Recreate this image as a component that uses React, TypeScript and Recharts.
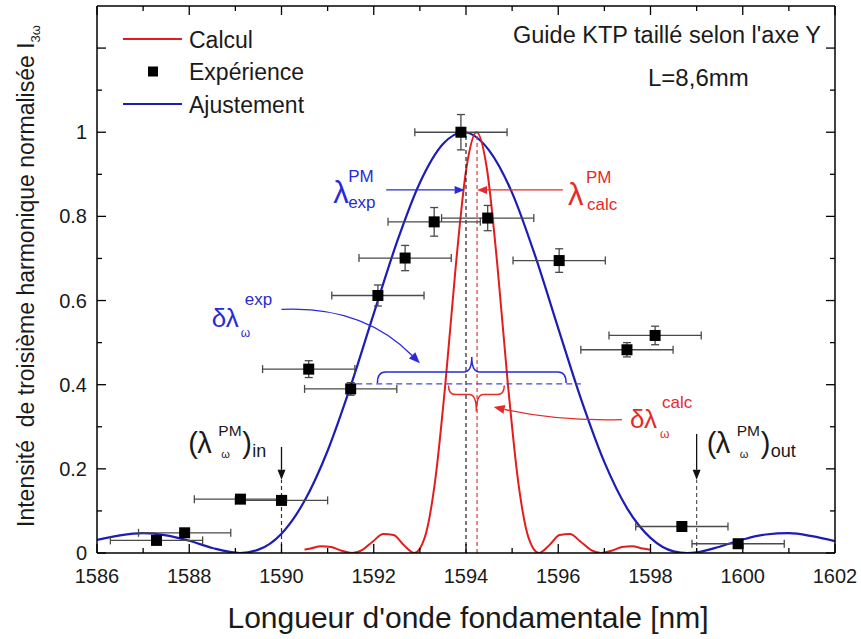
import React from 'react';
import {
  ComposedChart,
  Line,
  Scatter,
  XAxis,
  YAxis,
  ErrorBar,
  ReferenceLine,
  ReferenceDot,
} from 'recharts';

const FONT = '"Liberation Sans", Arial, Helvetica, sans-serif';
const RED = '#e31d1d';
const BLUE = '#1c1cb8';
const BLUE_TXT = '#2a2ad6';
const RED_TXT = '#e62a2a';
const GREY = '#4a4a4a';

// ---- axes ----
const xTicks = [1586, 1587, 1588, 1589, 1590, 1591, 1592, 1593, 1594, 1595, 1596, 1597, 1598, 1599, 1600, 1601, 1602];
const yTicks = [0, 0.1, 0.2, 0.3, 0.4, 0.5, 0.6, 0.7, 0.8, 0.9, 1, 1.1, 1.2];
const yTickLabels = ['0', '0.2', '0.4', '0.6', '0.8', '1'];

// ---- series ----
const calcul = [
  { x: 1590.5, y: 0.008 }, { x: 1590.63, y: 0.0107 }, { x: 1590.855, y: 0.0162 }, { x: 1591.08, y: 0.014 },
  { x: 1591.305, y: 0.0054 }, { x: 1591.53, y: 0 }, { x: 1591.755, y: 0.0075 }, { x: 1591.98, y: 0.0274 },
  { x: 1592.205, y: 0.045 }, { x: 1592.43, y: 0.0427 }, { x: 1592.655, y: 0.0186 }, { x: 1592.88, y: 0 },
  { x: 1593.105, y: 0.0365 }, { x: 1593.33, y: 0.171 }, { x: 1593.555, y: 0.405 }, { x: 1593.78, y: 0.684 },
  { x: 1594.005, y: 0.912 }, { x: 1594.23, y: 1.0 }, { x: 1594.455, y: 0.912 }, { x: 1594.68, y: 0.684 },
  { x: 1594.905, y: 0.405 }, { x: 1595.13, y: 0.171 }, { x: 1595.355, y: 0.0365 }, { x: 1595.58, y: 0 },
  { x: 1595.805, y: 0.0186 }, { x: 1596.03, y: 0.0427 }, { x: 1596.255, y: 0.045 }, { x: 1596.48, y: 0.0274 },
  { x: 1596.705, y: 0.0075 }, { x: 1596.93, y: 0 }, { x: 1597.155, y: 0.0054 }, { x: 1597.38, y: 0.014 },
  { x: 1597.605, y: 0.0162 }, { x: 1597.83, y: 0.0107 }, { x: 1598.0, y: 0.008 },
];

const ajustement = [
  { x: 1586.0, y: 0.031 }, { x: 1586.5, y: 0.042 }, { x: 1587.0, y: 0.047 }, { x: 1587.5, y: 0.042 },
  { x: 1588.0, y: 0.029 }, { x: 1588.5, y: 0.012 }, { x: 1589.1, y: 0 }, { x: 1589.5, y: 0.008 },
  { x: 1590.0, y: 0.046 }, { x: 1590.5, y: 0.124 }, { x: 1591.0, y: 0.243 }, { x: 1591.5, y: 0.397 },
  { x: 1592.0, y: 0.569 }, { x: 1592.5, y: 0.738 }, { x: 1593.0, y: 0.88 }, { x: 1593.5, y: 0.972 },
  { x: 1593.95, y: 1.0 }, { x: 1594.5, y: 0.957 }, { x: 1595.0, y: 0.856 }, { x: 1595.5, y: 0.706 },
  { x: 1596.0, y: 0.534 }, { x: 1596.5, y: 0.364 }, { x: 1597.0, y: 0.216 }, { x: 1597.5, y: 0.105 },
  { x: 1598.0, y: 0.036 }, { x: 1598.5, y: 0.004 }, { x: 1598.8, y: 0 }, { x: 1599.0, y: 0.0015 },
  { x: 1599.5, y: 0.015 }, { x: 1600.0, y: 0.032 }, { x: 1600.5, y: 0.044 }, { x: 1601.0, y: 0.047 },
  { x: 1601.5, y: 0.04 }, { x: 1602.0, y: 0.028 },
];

const experience = [
  { x: 1587.29, y: 0.03, ex: 1, ey: 0.01 },
  { x: 1587.9, y: 0.048, ex: 1, ey: 0.01 },
  { x: 1589.11, y: 0.128, ex: 1, ey: 0.01 },
  { x: 1590.0, y: 0.125, ex: 1, ey: 0.01 },
  { x: 1590.59, y: 0.437, ex: 1, ey: 0.02 },
  { x: 1591.5, y: 0.39, ex: 1, ey: 0.015 },
  { x: 1592.09, y: 0.612, ex: 1, ey: 0.025 },
  { x: 1592.68, y: 0.701, ex: 1, ey: 0.03 },
  { x: 1593.31, y: 0.787, ex: 1, ey: 0.034 },
  { x: 1593.89, y: 1.0, ex: 1, ey: 0.042 },
  { x: 1594.47, y: 0.796, ex: 1, ey: 0.03 },
  { x: 1596.02, y: 0.695, ex: 1, ey: 0.028 },
  { x: 1597.49, y: 0.483, ex: 1, ey: 0.017 },
  { x: 1598.1, y: 0.517, ex: 1, ey: 0.022 },
  { x: 1598.68, y: 0.063, ex: 1, ey: 0.01 },
  { x: 1599.9, y: 0.022, ex: 1, ey: 0.01 },
];

// ---- annotation anchors (data coordinates) ----
const lambdaExpX = 1594.0;
const lambdaCalcX = 1594.24;
const peakLevel = 1.0;
const pmArrowLevel = 0.863;
const halfLevel = 0.402;
const lambdaInX = 1590.0;
const lambdaOutX = 1599.0;

const legendItems = [
  { label: 'Calcul', kind: 'line', color: RED },
  { label: 'Expérience', kind: 'square', color: '#000' },
  { label: 'Ajustement', kind: 'line', color: BLUE },
];

// ---- ticks (drawn inward) ----
const BottomTick = (p: any) => {
  const v = p.payload.value;
  const major = (Math.round(v) - 1586) % 2 === 0;
  return (
    <g>
      <line x1={p.x} x2={p.x} y1={p.y} y2={p.y - (major ? 9 : 5)} stroke="#000" strokeWidth={1.3} />
      {major && (
        <text x={p.x} y={p.y + 30} textAnchor="middle" fontSize={20} fontFamily={FONT} fill="#1a1a1a">
          {String(v)}
        </text>
      )}
    </g>
  );
};
const TopTick = (p: any) => {
  const v = p.payload.value;
  const major = (Math.round(v) - 1586) % 2 === 0;
  return <line x1={p.x} x2={p.x} y1={p.y} y2={p.y + (major ? 9 : 5)} stroke="#000" strokeWidth={1.3} />;
};
const LeftTick = (p: any) => {
  const v = p.payload.value;
  const k = Math.round(v * 10);
  const major = k % 2 === 0;
  const label = major ? yTickLabels[k / 2] : undefined;
  return (
    <g>
      <line x1={p.x} x2={p.x + (major ? 9 : 5)} y1={p.y} y2={p.y} stroke="#000" strokeWidth={1.3} />
      {label !== undefined && (
        <text x={p.x - 10} y={p.y + 7} textAnchor="end" fontSize={20} fontFamily={FONT} fill="#1a1a1a">
          {label}
        </text>
      )}
    </g>
  );
};
const RightTick = (p: any) => {
  const k = Math.round(p.payload.value * 10);
  const major = k % 2 === 0;
  return <line x1={p.x} x2={p.x - (major ? 9 : 5)} y1={p.y} y2={p.y} stroke="#000" strokeWidth={1.3} />;
};

// ---- shapes ----
const Square = (p: any) => <rect x={p.cx - 5.5} y={p.cy - 5.5} width={11} height={11} fill="#000" />;

const Arrow = (p: any) => {
  const { x1, y1, x2, y2, color, width = 1.3, head = 10, half = 4 } = p;
  const dx = x2 - x1;
  const dy = y2 - y1;
  const L = Math.hypot(dx, dy) || 1;
  const ux = dx / L;
  const uy = dy / L;
  const bx = x2 - ux * head;
  const by = y2 - uy * head;
  return (
    <g>
      <line x1={x1} y1={y1} x2={bx} y2={by} stroke={color} strokeWidth={width} />
      <polygon
        points={`${x2},${y2} ${bx - uy * half},${by + ux * half} ${bx + uy * half},${by - ux * half}`}
        fill={color}
      />
    </g>
  );
};

const CurvedArrow = (p: any) => {
  const { x1, y1, x2, y2, bend, color } = p;
  const mx = (x1 + x2) / 2;
  const my = (y1 + y2) / 2;
  const dx = x2 - x1;
  const dy = y2 - y1;
  const L = Math.hypot(dx, dy) || 1;
  const cx = mx + (-dy / L) * bend;
  const cy = my + (dx / L) * bend;
  const tx = x2 - cx;
  const ty = y2 - cy;
  const tl = Math.hypot(tx, ty) || 1;
  const ux = tx / tl;
  const uy = ty / tl;
  const head = 11;
  const half = 4.5;
  const bx = x2 - ux * head;
  const by = y2 - uy * head;
  return (
    <g>
      <path d={`M${x1},${y1} Q${cx},${cy} ${bx},${by}`} fill="none" stroke={color} strokeWidth={1.3} />
      <polygon
        points={`${x2},${y2} ${bx - uy * half},${by + ux * half} ${bx + uy * half},${by - ux * half}`}
        fill={color}
      />
    </g>
  );
};

const Brace = (p: any) => {
  const { x1, y1, x2, bar, tip, r, color } = p;
  const xm = (x1 + x2) / 2;
  const yb = y1 + bar;
  const yt = y1 + tip;
  const d =
    `M${x1},${y1} Q${x1},${yb} ${x1 + r},${yb} L${xm - r},${yb} Q${xm},${yb} ${xm},${yt}` +
    ` M${xm},${yt} Q${xm},${yb} ${xm + r},${yb} L${x2 - r},${yb} Q${x2},${yb} ${x2},${y1}`;
  return <path d={d} fill="none" stroke={color} strokeWidth={1.5} />;
};

type Piece = { t: string; dx: number; dy: number; fs: number };
const MathLabel = (p: any) => {
  const { cx, cy, pieces, color } = p;
  return (
    <text fill={color} fontFamily={FONT}>
      {(pieces as Piece[]).map((pc, i) => (
        <tspan key={i} x={cx + pc.dx} y={cy + pc.dy} fontSize={pc.fs}>
          {pc.t}
        </tspan>
      ))}
    </text>
  );
};

const lamExpPieces: Piece[] = [
  { t: 'λ', dx: 0, dy: 0, fs: 31 },
  { t: 'PM', dx: 15, dy: -21, fs: 17 },
  { t: 'exp', dx: 15, dy: 5, fs: 17 },
];
const lamCalcPieces: Piece[] = [
  { t: 'λ', dx: 0, dy: 0, fs: 31 },
  { t: 'PM', dx: 18, dy: -22, fs: 17 },
  { t: 'calc', dx: 19, dy: 5, fs: 17 },
];
const dlExpPieces: Piece[] = [
  { t: 'δλ', dx: 0, dy: 0, fs: 26 },
  { t: 'exp', dx: 33, dy: -22, fs: 17 },
  { t: 'ω', dx: 29, dy: 10, fs: 12 },
];
const dlCalcPieces: Piece[] = [
  { t: 'δλ', dx: 0, dy: 0, fs: 26 },
  { t: 'calc', dx: 32, dy: -20, fs: 17 },
  { t: 'ω', dx: 30, dy: 10, fs: 12 },
];
const pmPieces = (sub: string): Piece[] => [
  { t: '(', dx: 0, dy: 0, fs: 29 },
  { t: 'λ', dx: 9, dy: 0, fs: 29 },
  { t: 'PM', dx: 30, dy: -17, fs: 15.5 },
  { t: 'ω', dx: 33, dy: 5, fs: 11 },
  { t: ')', dx: 54, dy: 0, fs: 29 },
  { t: sub, dx: 64, dy: 4, fs: 18 },
];

export default function App() {
  return (
    <div style={{ position: 'absolute', left: 0, top: 0, width: 861, height: 639, background: '#fff' }}>
      <ComposedChart width={861} height={639} margin={{ top: 1, right: 16, bottom: 0, left: 0 }}>
        <XAxis
          xAxisId={0}
          type="number"
          dataKey="x"
          domain={[1586, 1602]}
          ticks={xTicks}
          interval={0}
          allowDataOverflow
          height={86}
          tickSize={0}
          tickMargin={0}
          tickLine={false}
          axisLine={{ stroke: '#000', strokeWidth: 1.5 }}
          tick={BottomTick}
        />
        <XAxis
          xAxisId="top"
          orientation="top"
          type="number"
          dataKey="x"
          domain={[1586, 1602]}
          ticks={xTicks}
          interval={0}
          allowDataOverflow
          height={5}
          tickSize={0}
          tickMargin={0}
          tickLine={false}
          axisLine={{ stroke: '#000', strokeWidth: 1.5 }}
          tick={TopTick}
        />
        <YAxis
          yAxisId={0}
          type="number"
          dataKey="y"
          domain={[0, 1.3]}
          ticks={yTicks}
          interval={0}
          allowDataOverflow
          width={97}
          tickSize={0}
          tickMargin={0}
          tickLine={false}
          axisLine={{ stroke: '#000', strokeWidth: 1.5 }}
          tick={LeftTick}
        />
        <YAxis
          yAxisId="right"
          orientation="right"
          type="number"
          dataKey="y"
          domain={[0, 1.3]}
          ticks={yTicks}
          interval={0}
          allowDataOverflow
          width={10}
          tickSize={0}
          tickMargin={0}
          tickLine={false}
          axisLine={{ stroke: '#000', strokeWidth: 1.5 }}
          tick={RightTick}
        />

        <Line
          data={ajustement}
          dataKey="y"
          type="monotone"
          stroke={BLUE}
          strokeWidth={2.2}
          dot={false}
          activeDot={false}
          isAnimationActive={false}
        />
        <Line
          data={calcul}
          dataKey="y"
          type="monotone"
          stroke={RED}
          strokeWidth={2}
          dot={false}
          activeDot={false}
          isAnimationActive={false}
        />

        {/* vertical dashed markers */}
        <ReferenceLine
          segment={[{ x: lambdaExpX, y: 0 }, { x: lambdaExpX, y: 0.995 }]}
          stroke="#222"
          strokeWidth={1.2}
          strokeDasharray="4 3"
        />
        <ReferenceLine
          segment={[{ x: lambdaCalcX, y: 0 }, { x: lambdaCalcX, y: peakLevel }]}
          stroke="#e03a3a"
          strokeWidth={1.2}
          strokeDasharray="4 3"
        />
        <ReferenceLine
          segment={[{ x: lambdaInX, y: 0 }, { x: lambdaInX, y: 0.174 }]}
          stroke="#333"
          strokeWidth={1.2}
          strokeDasharray="4 3"
        />
        <ReferenceLine
          segment={[{ x: lambdaOutX, y: 0 }, { x: lambdaOutX, y: 0.174 }]}
          stroke="#555"
          strokeWidth={1.2}
          strokeDasharray="4 3"
        />
        {/* half level dashed line */}
        <ReferenceLine
          segment={[{ x: 1591.62, y: halfLevel }, { x: 1596.49, y: halfLevel }]}
          stroke="#4646e0"
          strokeWidth={1.4}
          strokeDasharray="6 4"
        />
        {/* braces */}
        <ReferenceLine
          segment={[{ x: 1592.08, y: 0.404 }, { x: 1596.17, y: 0.404 }]}
          shape={(p: any) => <Brace {...p} bar={-11} tip={-26} r={8} color={BLUE_TXT} />}
        />
        <ReferenceLine
          segment={[{ x: 1593.62, y: 0.398 }, { x: 1594.83, y: 0.398 }]}
          shape={(p: any) => <Brace {...p} bar={9} tip={26} r={7} color={RED_TXT} />}
        />
        {/* PM arrows */}
        <ReferenceLine
          segment={[{ x: 1592.27, y: pmArrowLevel }, { x: 1593.97, y: pmArrowLevel }]}
          shape={(p: any) => <Arrow {...p} color={BLUE_TXT} />}
        />
        <ReferenceLine
          segment={[{ x: 1596.1, y: pmArrowLevel }, { x: lambdaCalcX, y: pmArrowLevel }]}
          shape={(p: any) => <Arrow {...p} color={RED_TXT} />}
        />
        <ReferenceLine
          segment={[{ x: lambdaInX, y: 0.252 }, { x: lambdaInX, y: 0.174 }]}
          shape={(p: any) => <Arrow {...p} color="#111" half={4} />}
        />
        <ReferenceLine
          segment={[{ x: lambdaOutX, y: 0.283 }, { x: lambdaOutX, y: 0.174 }]}
          shape={(p: any) => <Arrow {...p} color="#111" half={4} />}
        />
        {/* curved arrows */}
        <ReferenceLine
          segment={[{ x: 1590.0, y: 0.579 }, { x: 1593.0, y: 0.451 }]}
          shape={(p: any) => <CurvedArrow {...p} bend={-33} color={BLUE_TXT} />}
        />
        <ReferenceLine
          segment={[{ x: 1597.38, y: 0.317 }, { x: 1594.6, y: 0.347 }]}
          shape={(p: any) => <CurvedArrow {...p} bend={-8} color={RED_TXT} />}
        />

        {/* math labels */}
        <ReferenceDot x={1591.12} y={0.832} r={0} shape={(p: any) => <MathLabel {...p} pieces={lamExpPieces} color={BLUE_TXT} />} />
        <ReferenceDot x={1596.21} y={0.827} r={0} shape={(p: any) => <MathLabel {...p} pieces={lamCalcPieces} color={RED_TXT} />} />
        <ReferenceDot x={1588.49} y={0.537} r={0} shape={(p: any) => <MathLabel {...p} pieces={dlExpPieces} color={BLUE_TXT} />} />
        <ReferenceDot x={1597.556} y={0.297} r={0} shape={(p: any) => <MathLabel {...p} pieces={dlCalcPieces} color={RED_TXT} />} />
        <ReferenceDot x={1587.98} y={0.2377} r={0} shape={(p: any) => <MathLabel {...p} pieces={pmPieces('in')} color="#1a1a1a" />} />
        <ReferenceDot x={1599.22} y={0.2377} r={0} shape={(p: any) => <MathLabel {...p} pieces={pmPieces('out')} color="#1a1a1a" />} />

        <Scatter data={experience} dataKey="y" fill="#000" shape={Square} isAnimationActive={false}>
          <ErrorBar dataKey="ex" direction="x" width={4} stroke={GREY} strokeWidth={1.3} isAnimationActive={false} />
          <ErrorBar dataKey="ey" direction="y" width={4} stroke={GREY} strokeWidth={1.3} isAnimationActive={false} />
        </Scatter>
      </ComposedChart>

      <svg
        width={861}
        height={639}
        style={{ position: 'absolute', left: 0, top: 0, pointerEvents: 'none' }}
      >
        {legendItems.map((it, i) => {
          const cy = 39 + i * 32.5;
          return (
            <g key={it.label}>
              {it.kind === 'line' ? (
                <line x1={123} x2={182} y1={cy} y2={cy} stroke={it.color} strokeWidth={2} />
              ) : (
                <rect x={148} y={cy - 5} width={10} height={10} fill={it.color} />
              )}
              <text x={189} y={cy + 8.5} fontSize={23} fontFamily={FONT} fill="#1a1a1a">
                {it.label}
              </text>
            </g>
          );
        })}
        <text x={513} y={43} fontSize={23.5} fontFamily={FONT} fill="#1a1a1a">
          Guide KTP taillé selon l'axe Y
        </text>
        <text x={648} y={86} fontSize={24} fontFamily={FONT} fill="#1a1a1a">
          L=8,6mm
        </text>
        <text
          x={468}
          y={628}
          textAnchor="middle"
          fontSize={30}
          fontFamily={FONT}
          fill="#1a1a1a"
        >
          Longueur d'onde fondamentale [nm]
        </text>
        <text
          x={34}
          y={276}
          textAnchor="middle"
          fontSize={23}
          fontFamily={FONT}
          fill="#1a1a1a"
          transform="rotate(-90 34 276)"
          style={{ whiteSpace: 'pre' }}
        >
          {'Intensité  de troisième harmonique normalisée I'}
          <tspan fontSize={13} dy={6}>
            3ω
          </tspan>
        </text>
      </svg>
    </div>
  );
}
